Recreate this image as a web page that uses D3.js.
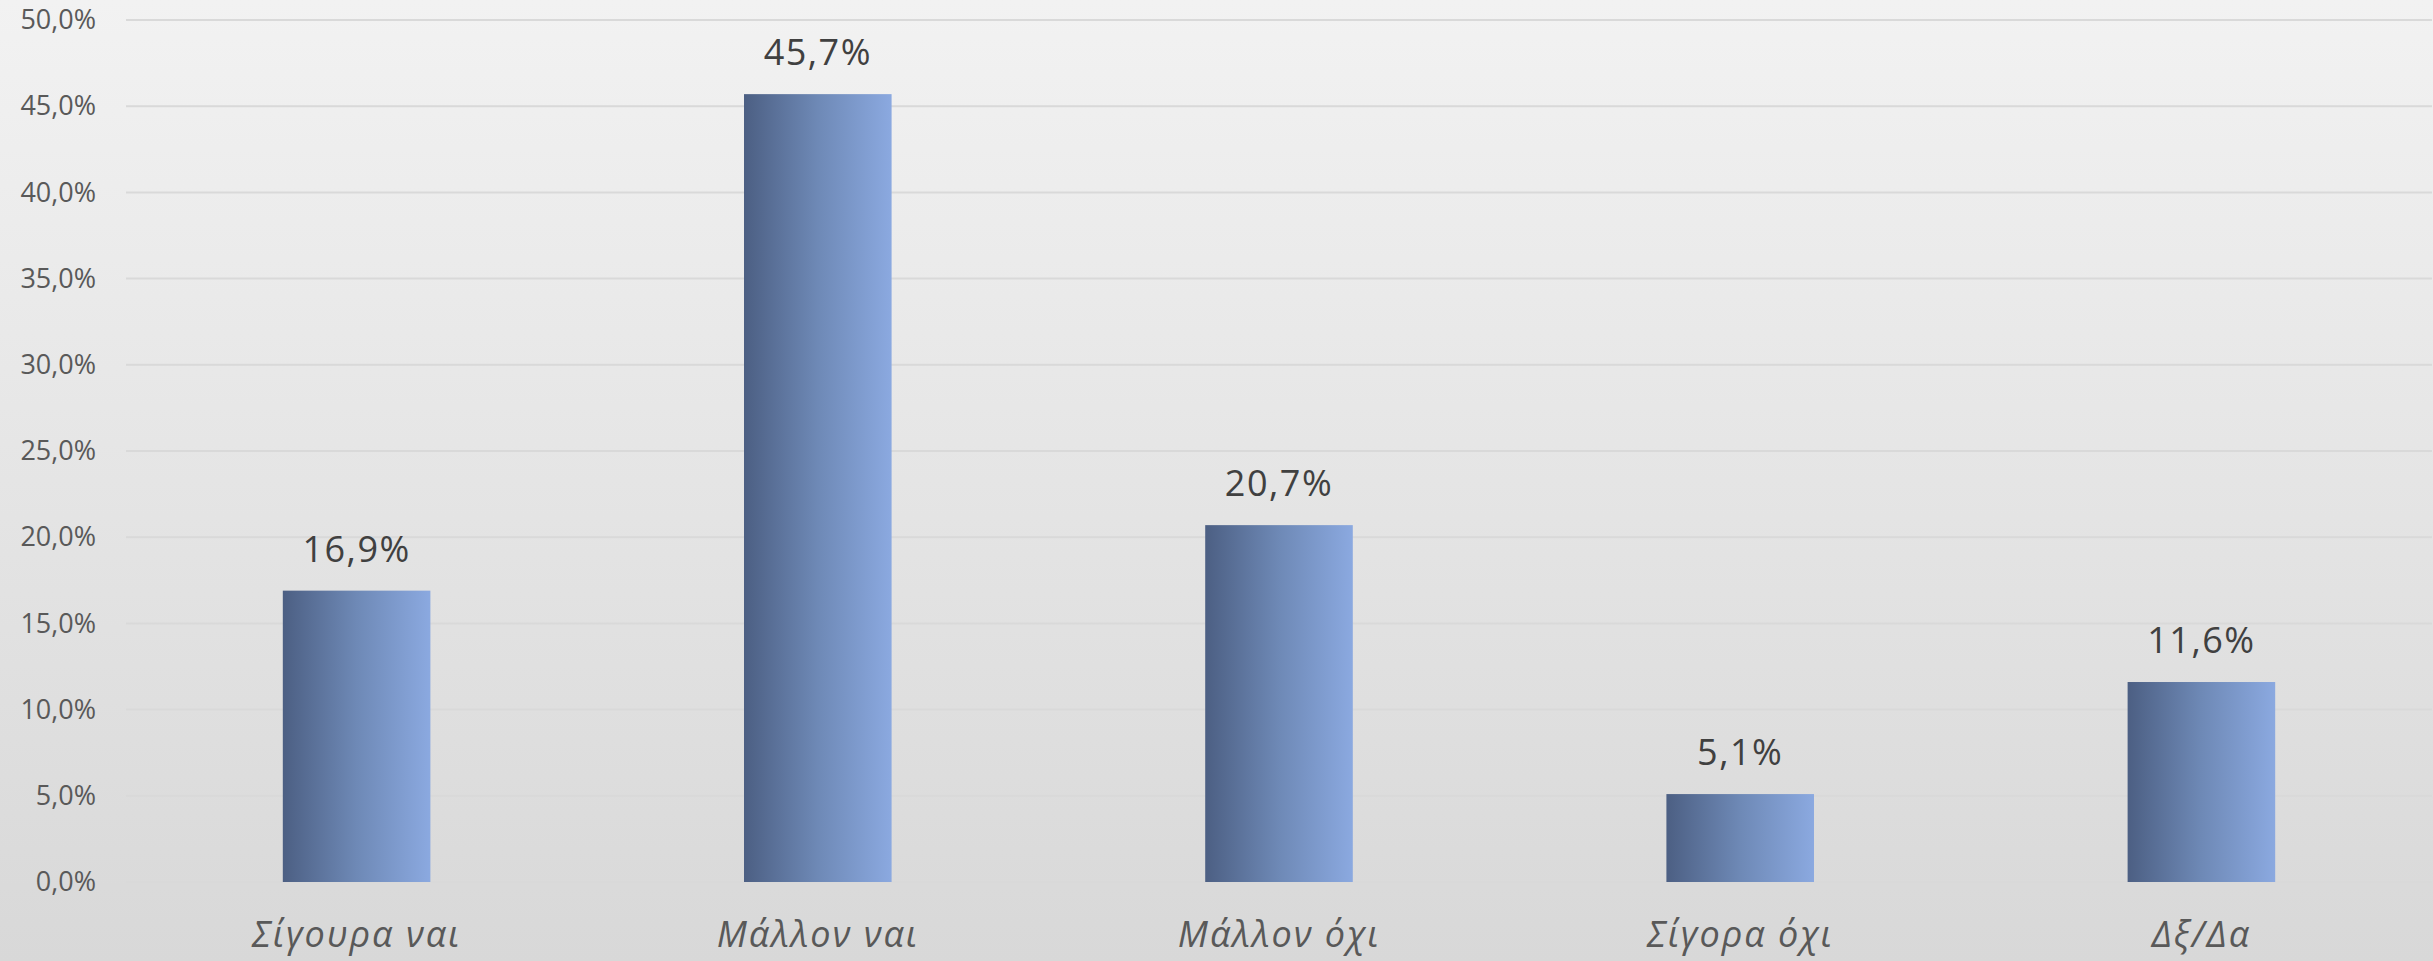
<!DOCTYPE html>
<html>
<head>
<meta charset="utf-8">
<script src="https://cdn.jsdelivr.net/npm/d3@7"></script>
<style>
  html, body { margin: 0; padding: 0; overflow: hidden; }
  body { width: 2433px; height: 961px; }
  text { font-family: "Open Sans", "Noto Sans", sans-serif; }
</style>
</head>
<body>
<script>
// data
var categories = ['Σίγουρα ναι', 'Μάλλον ναι', 'Μάλλον όχι', 'Σίγορα όχι', 'Δξ/Δα'];
var values = [16.9, 45.7, 20.7, 5.1, 11.6];
var yTicks = [0, 5, 10, 15, 20, 25, 30, 35, 40, 45, 50];

var width = 2433,
    height = 961,
    margin = {top: 20, right: 1, bottom: 79, left: 126};

var locale = d3.formatLocale({decimal: ',', thousands: '.', grouping: [3], currency: ['', '€']});
var fmt = locale.format('.1f');

var svg = d3.select('body').append('svg')
  .attr('width', width)
  .attr('height', height);

var defs = svg.append('defs');
var bg = defs.append('linearGradient')
  .attr('id', 'bg')
  .attr('x1', 0).attr('y1', 0).attr('x2', 0).attr('y2', 1);
bg.append('stop').attr('offset', '0%').attr('stop-color', '#f2f2f2');
bg.append('stop').attr('offset', '100%').attr('stop-color', '#d8d8d8');

var barGrad = defs.append('linearGradient')
  .attr('id', 'bar')
  .attr('x1', 0).attr('y1', 0).attr('x2', 1).attr('y2', 0);
barGrad.append('stop').attr('offset', '0%').attr('stop-color', '#4c5f83');
barGrad.append('stop').attr('offset', '50%').attr('stop-color', '#6e89b6');
barGrad.append('stop').attr('offset', '100%').attr('stop-color', '#8ba9e0');

svg.append('rect')
  .attr('width', width)
  .attr('height', height)
  .attr('fill', 'url(#bg)');

var x = d3.scaleBand()
  .domain(categories)
  .range([margin.left, width - margin.right])
  .paddingInner(0.68)
  .paddingOuter(0.34);

var y = d3.scaleLinear()
  .domain([0, 50])
  .range([height - margin.bottom, margin.top]);

// gridlines
svg.append('g')
  .attr('class', 'grid')
  .selectAll('line')
  .data(yTicks)
  .enter().append('line')
    .attr('x1', margin.left)
    .attr('x2', width - margin.right)
    .attr('y1', function(d) { return y(d); })
    .attr('y2', function(d) { return y(d); })
    .attr('stroke', '#d9d9d9')
    .attr('stroke-width', 2);

// y axis labels
var yAxis = d3.axisLeft(y)
  .tickValues(yTicks)
  .tickSize(0)
  .tickPadding(30)
  .tickFormat(function(d) { return fmt(d) + '%'; });

var gy = svg.append('g')
  .attr('transform', 'translate(' + margin.left + ',0)')
  .call(yAxis);
gy.select('.domain').remove();
gy.selectAll('text')
  .attr('font-size', 27)
  .attr('font-family', '"Open Sans", "Noto Sans", sans-serif')
  .attr('fill', '#595959');

// bars
svg.append('g')
  .selectAll('rect')
  .data(values)
  .enter().append('rect')
    .attr('x', function(d, i) { return x(categories[i]); })
    .attr('y', function(d) { return y(d); })
    .attr('width', x.bandwidth())
    .attr('height', function(d) { return y(0) - y(d); })
    .attr('fill', 'url(#bar)');

// value labels
svg.append('g')
  .selectAll('text')
  .data(values)
  .enter().append('text')
    .attr('x', function(d, i) { return x(categories[i]) + x.bandwidth() / 2; })
    .attr('y', function(d) { return y(d) - 29; })
    .attr('text-anchor', 'middle')
    .attr('font-size', 36)
    .attr('letter-spacing', 1.5)
    .attr('fill', '#404040')
    .text(function(d) { return fmt(d) + '%'; });

// x axis labels
var xAxis = d3.axisBottom(x).tickSize(0).tickPadding(0);
var gx = svg.append('g')
  .attr('transform', 'translate(0,' + y(0) + ')')
  .call(xAxis);
gx.select('.domain').remove();
gx.selectAll('text')
  .attr('dy', null)
  .attr('y', 65)
  .attr('font-size', 36)
  .attr('letter-spacing', 2)
  .attr('font-style', 'italic')
  .attr('font-family', '"Open Sans", "Noto Sans", sans-serif')
  .attr('fill', '#595959');
</script>
</body>
</html>
